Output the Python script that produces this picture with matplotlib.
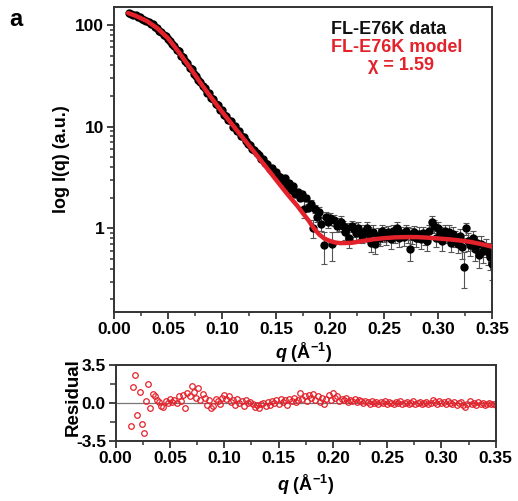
import matplotlib
matplotlib.use('Agg')
import matplotlib.pyplot as plt
from matplotlib.ticker import FixedLocator, LogLocator, NullFormatter, FixedFormatter

plt.rcParams['font.family'] = ['Liberation Sans', 'DejaVu Sans']
plt.rcParams['font.weight'] = 'bold'
plt.rcParams['mathtext.fontset'] = 'custom'
plt.rcParams['mathtext.rm'] = 'Liberation Sans:bold'
plt.rcParams['mathtext.it'] = 'Liberation Sans:italic:bold'
plt.rcParams['mathtext.bf'] = 'Liberation Sans:bold'

# measured scattering data
q = [0.014, 0.016, 0.018, 0.020, 0.022, 0.024, 0.026, 0.028, 0.030, 0.032,
     0.034, 0.036, 0.038, 0.040, 0.042, 0.044, 0.046, 0.048, 0.050, 0.052,
     0.054, 0.056, 0.058, 0.060, 0.062, 0.064, 0.066, 0.068, 0.070, 0.072,
     0.074, 0.076, 0.078, 0.080, 0.082, 0.084, 0.086, 0.088, 0.090, 0.092,
     0.094, 0.096, 0.098, 0.100, 0.102, 0.104, 0.106, 0.108, 0.110, 0.112,
     0.114, 0.116, 0.118, 0.120, 0.122, 0.124, 0.126, 0.128, 0.130, 0.132,
     0.134, 0.136, 0.138, 0.140, 0.142, 0.144, 0.146, 0.148, 0.150, 0.152,
     0.154, 0.156, 0.158, 0.160, 0.162, 0.164, 0.166, 0.168, 0.170, 0.172,
     0.174, 0.176, 0.178, 0.180, 0.182, 0.184, 0.186, 0.188, 0.190, 0.192,
     0.194, 0.196, 0.198, 0.200, 0.202, 0.204, 0.206, 0.208, 0.210, 0.212,
     0.214, 0.216, 0.218, 0.220, 0.222, 0.224, 0.226, 0.228, 0.230, 0.232,
     0.234, 0.236, 0.238, 0.240, 0.242, 0.244, 0.246, 0.248, 0.250, 0.252,
     0.254, 0.256, 0.258, 0.260, 0.262, 0.264, 0.266, 0.268, 0.270, 0.272,
     0.274, 0.276, 0.278, 0.280, 0.282, 0.284, 0.286, 0.288, 0.290, 0.292,
     0.294, 0.296, 0.298, 0.300, 0.302, 0.304, 0.306, 0.308, 0.310, 0.312,
     0.314, 0.316, 0.318, 0.320, 0.322, 0.324, 0.326, 0.328, 0.330, 0.332,
     0.334, 0.336, 0.338, 0.340, 0.342, 0.344, 0.346, 0.348, 0.350]

intensity = [132, 129, 125, 124, 120, 119, 114, 113, 109, 107,
             102, 101, 95, 94, 88, 86, 80, 78, 73, 70,
             65, 62, 57, 55, 50, 48, 44.5, 42, 38, 36.5,
             33, 31.5, 28.5, 27.5, 25, 24, 21.6, 21.2, 19, 18.6,
             16.6, 16.4, 14.6, 14.5, 12.9, 12.8, 11.5, 11.4, 10.0, 10.1,
             9.0, 9.0, 8.0, 7.9, 7.3, 6.8, 6.6, 6.0, 5.9, 5.5,
             5.3, 4.8, 4.8, 4.4, 4.3, 3.8, 3.9, 3.5, 3.6, 3.3,
             3.2, 2.9, 3.1, 2.6, 2.8, 2.4, 2.6, 2.2, 2.3, 2.0,
             2.2, 1.55, 2.0, 1.6, 1.75, 1.0, 1.55, 1.3, 1.45, 1.1,
             0.68, 1.3, 1.15, 1.25, 0.70, 1.2, 1.05, 1.1, 1.15, 1.05,
             0.92, 1.0, 0.80, 1.05, 0.98, 0.90, 1.0, 0.93, 0.85, 0.95,
             1.0, 0.88, 0.72, 0.92, 0.70, 0.85, 0.80, 0.95, 0.88, 0.82,
             0.92, 0.78, 0.95, 0.85, 1.0, 0.80, 0.90, 0.82, 0.95, 0.88,
             0.62, 0.85, 0.92, 0.80, 0.88, 0.78, 0.90, 0.82, 0.75, 0.95,
             1.15, 1.05, 0.80, 1.0, 0.88, 0.75, 0.95, 0.85, 0.92, 0.72,
             0.88, 0.80, 0.70, 0.85, 0.65, 0.42, 1.0, 0.75, 0.68, 0.80,
             0.62, 0.72, 0.55, 0.70, 0.60, 0.65, 0.58, 0.52, 0.45]

err = [1.5, 1.5, 1.4, 1.4, 1.3, 1.3, 1.2, 1.2, 1.1, 1.1,
       1.0, 1.0, 0.9, 0.9, 0.8, 0.8, 0.7, 0.7, 0.7, 0.6,
       0.6, 0.55, 0.5, 0.5, 0.45, 0.4, 0.4, 0.35, 0.35, 0.3,
       0.3, 0.28, 0.26, 0.25, 0.24, 0.23, 0.22, 0.2, 0.2, 0.19,
       0.18, 0.17, 0.16, 0.16, 0.15, 0.14, 0.14, 0.13, 0.13, 0.12,
       0.12, 0.11, 0.11, 0.1, 0.1, 0.1, 0.1, 0.09, 0.09, 0.09,
       0.09, 0.09, 0.09, 0.08, 0.08, 0.08, 0.08, 0.08, 0.08, 0.08,
       0.08, 0.09, 0.08, 0.09, 0.09, 0.08, 0.09, 0.09, 0.1, 0.12,
       0.12, 0.3, 0.14, 0.13, 0.15, 0.2, 0.15, 0.14, 0.16, 0.15,
       0.23, 0.15, 0.14, 0.16, 0.22, 0.15, 0.14, 0.15, 0.16, 0.14,
       0.15, 0.14, 0.16, 0.14, 0.15, 0.14, 0.15, 0.14, 0.13, 0.14,
       0.15, 0.14, 0.13, 0.15, 0.14, 0.15, 0.13, 0.14, 0.15, 0.13,
       0.14, 0.15, 0.13, 0.14, 0.15, 0.14, 0.13, 0.15, 0.14, 0.16,
       0.14, 0.15, 0.13, 0.15, 0.14, 0.15, 0.13, 0.14, 0.15, 0.14,
       0.16, 0.15, 0.14, 0.15, 0.14, 0.15, 0.14, 0.13, 0.15, 0.14,
       0.15, 0.14, 0.13, 0.14, 0.15, 0.16, 0.14, 0.15, 0.14, 0.15,
       0.14, 0.13, 0.14, 0.15, 0.14, 0.13, 0.14, 0.13, 0.14]

residual = [-2.1, 1.5, 2.6, -1.1, 1.0, -1.9, -2.8, 0.2, 1.7, -0.5,
            0.8, 0.6, 0.3, 0.1, -0.3, -0.4, 0.2, 0.0, 0.4, 0.1,
            0.3, 0.0, 0.6, 0.2, 0.7, -0.5, 0.9, 0.6, 1.6, 1.0,
            0.5, 1.4, 0.3, 0.8, 0.5, -0.2, 0.3, -0.5, -0.3, 0.4,
            0.2, -0.1, 0.5, 0.7, 0.4, 0.6, 0.1, 0.3, -0.2, 0.4,
            0.0, 0.2, -0.3, 0.3, 0.0, 0.1, -0.1, -0.4, -0.2, -0.5,
            -0.1, 0.0, -0.3, 0.1, -0.2, 0.2, 0.0, 0.3, -0.1, 0.4,
            0.1, 0.3, -0.2, 0.4, 0.2, 0.5, 0.1, 0.3, 0.9, 0.4,
            0.6, 0.2, 0.7, 0.5, 0.8, 0.3, 0.6, 0.1, 0.5, -0.1,
            0.4, 0.7, 0.3, 0.9, 0.5, 0.6, 0.2, 0.4, 0.3, 0.5,
            0.1, 0.3, 0.2, 0.4, 0.1, 0.3, 0.2, 0.0, 0.2, 0.1,
            -0.1, 0.2, 0.0, 0.1, -0.1, 0.1, 0.0, 0.2, -0.1, 0.1,
            0.0, -0.1, 0.1, 0.0, 0.2, -0.1, 0.0, 0.1, -0.1, 0.0,
            0.2, -0.1, 0.0, 0.1, -0.1, 0.0, 0.1, -0.1, 0.0, 0.3,
            0.1, -0.1, 0.2, 0.0, 0.1, -0.1, 0.2, 0.0, -0.1, 0.1,
            -0.2, 0.0, 0.1, -0.2, -0.4, -0.1, 0.2, -0.1, 0.0, -0.2,
            0.1, -0.1, 0.0, -0.2, -0.1, 0.0, -0.1, -0.1, -0.2]

# model fit curve
q_fit = [0.013, 0.02, 0.03, 0.04, 0.05, 0.06, 0.07, 0.08, 0.09, 0.10,
         0.11, 0.12, 0.13, 0.14, 0.15, 0.16, 0.17, 0.175, 0.18, 0.185,
         0.19, 0.195, 0.20, 0.205, 0.21, 0.22, 0.23, 0.24, 0.25, 0.26,
         0.27, 0.28, 0.29, 0.30, 0.31, 0.32, 0.33, 0.34, 0.35]
I_fit = [131, 123, 110, 93, 74, 54, 38.5, 27, 19.3, 14.0,
         10.3, 7.6, 5.6, 4.1, 3.0, 2.2, 1.65, 1.4, 1.2, 1.0,
         0.87, 0.79, 0.75, 0.725, 0.715, 0.72, 0.75, 0.78, 0.80, 0.815,
         0.82, 0.82, 0.81, 0.795, 0.78, 0.76, 0.735, 0.70, 0.66]

x_ticks = [0.00, 0.05, 0.10, 0.15, 0.20, 0.25, 0.30, 0.35]
x_ticklabels = ['0.00', '0.05', '0.10', '0.15', '0.20', '0.25', '0.30', '0.35']

red = '#e3222b'
spine_col = '#333333'
xlabel = r'$\it{q}$ (Å$^{-1}$)'


def style_axis(ax):
    for s in ax.spines.values():
        s.set_linewidth(1.4)
        s.set_color(spine_col)
    ax.tick_params(which='major', direction='out', length=5, width=1.3,
                   labelsize=12.5, color=spine_col, pad=2)
    ax.tick_params(which='minor', direction='out', length=3, width=1.1,
                   color=spine_col)
    ax.set_xlim(0, 0.35)
    ax.xaxis.set_major_locator(FixedLocator(x_ticks))
    ax.xaxis.set_major_formatter(FixedFormatter(x_ticklabels))
    ax.xaxis.set_minor_locator(FixedLocator([0.025, 0.075, 0.125, 0.175,
                                             0.225, 0.275, 0.325]))
    for lab in ax.get_xticklabels() + ax.get_yticklabels():
        lab.set_fontweight('bold')


fig = plt.figure(figsize=(5.18, 5.01), dpi=100)
ax1 = fig.add_axes([0.220, 0.377, 0.730, 0.609])
ax2 = fig.add_axes([0.2234, 0.120, 0.7336, 0.1515])

ax1.errorbar(q, intensity, yerr=err, fmt='o', color='black', markersize=5,
             ecolor='#555555', elinewidth=0.8, capsize=2.5, capthick=0.8,
             zorder=2)
ax1.plot(q_fit, I_fit, color=red, lw=3.2, solid_capstyle='round',
         solid_joinstyle='round', zorder=3)
ax1.set_yscale('log')
ax1.set_ylim(0.15, 150)
style_axis(ax1)
ax1.yaxis.set_major_locator(FixedLocator([1, 10, 100]))
ax1.yaxis.set_major_formatter(FixedFormatter(['1', '10', '100']))
ax1.yaxis.set_minor_locator(LogLocator(base=10, subs=range(2, 10)))
ax1.yaxis.set_minor_formatter(NullFormatter())
for lab in ax1.get_yticklabels():
    lab.set_fontweight('bold')
ax1.set_ylabel('log I(q) (a.u.)', fontsize=13, fontweight='bold', labelpad=4)
ax1.set_xlabel(xlabel, fontsize=13, fontweight='bold', labelpad=3)

ax1.text(0.575, 0.925, 'FL-E76K data', transform=ax1.transAxes,
         fontsize=13, fontweight='bold', color='#111111', va='center')
ax1.text(0.575, 0.866, 'FL-E76K model', transform=ax1.transAxes,
         fontsize=13, fontweight='bold', color=red, va='center')
ax1.text(0.76, 0.807, 'χ = 1.59', transform=ax1.transAxes,
         fontsize=13, fontweight='bold', color=red, va='center', ha='center')

ax2.axhline(0, color='#777777', lw=0.9, zorder=1)
ax2.plot(q, residual, 'o', mfc='none', mec=red, mew=0.9, markersize=4,
         zorder=2)
ax2.set_ylim(-3.5, 3.5)
style_axis(ax2)
ax2.yaxis.set_major_locator(FixedLocator([-3.5, 0.0, 3.5]))
ax2.yaxis.set_major_formatter(FixedFormatter(['-3.5', '0.0', '3.5']))
ax2.yaxis.set_minor_locator(FixedLocator([-1.75, 1.75]))
ax2.tick_params(axis='y', which='minor', length=4)
for lab in ax2.get_yticklabels():
    lab.set_fontweight('bold')
ax2.set_ylabel('Residual', fontsize=13.5, fontweight='bold')
ax2.yaxis.set_label_coords(-0.089, 0.58)
ax2.set_xlabel(xlabel, fontsize=13, fontweight='bold', labelpad=5)

fig.text(0.018, 0.962, 'a', fontsize=17, fontweight='bold', va='center')

fig.savefig('out.png', dpi=100)
